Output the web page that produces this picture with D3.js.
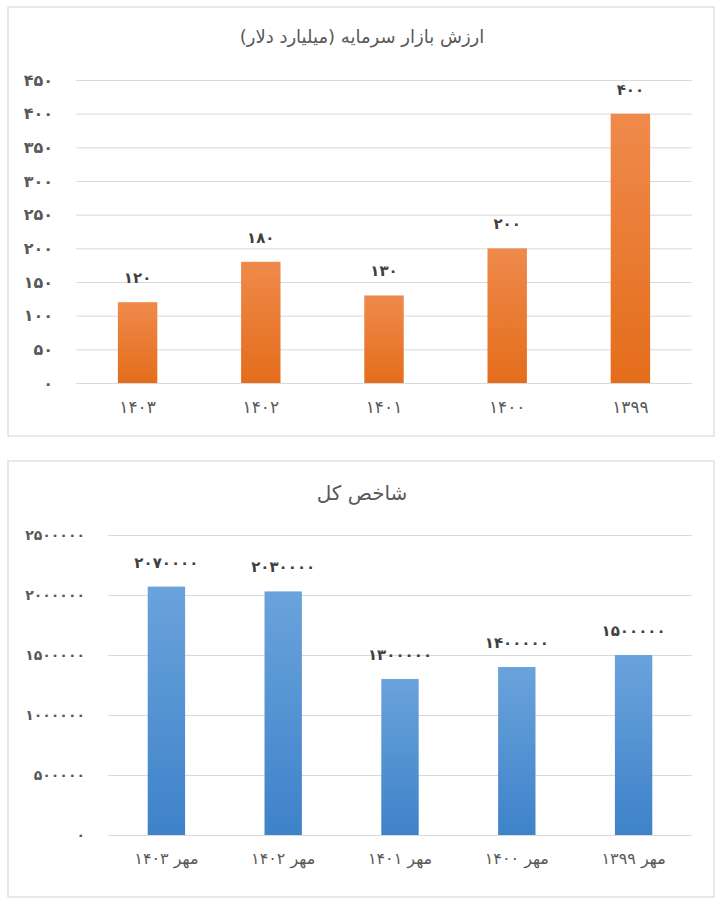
<!DOCTYPE html>
<html><head><meta charset="utf-8">
<script src="https://cdn.jsdelivr.net/npm/d3@7"></script>
<style>
body{margin:0;background:#fff;}
text{font-family:"DejaVu Sans","Noto Sans",sans-serif;}
</style></head>
<body><svg id="c" width="722" height="900"></svg>
<script>
const years1 = ["1403","1402","1401","1400","1399"];
const marketValue = [120,180,130,200,400];
const yTicks1 = [0,50,100,150,200,250,300,350,400,450];
const title1 = "ارزش بازار سرمایه (میلیارد دلار)";

const years2 = ["مهر 1403","مهر 1402","مهر 1401","مهر 1400","مهر 1399"];
const indexValue = [2070000,2030000,1300000,1400000,1500000];
const yTicks2 = [0,500000,1000000,1500000,2000000,2500000];
const title2 = "شاخص کل";

const fa = s => String(s).replace(/[0-9]/g, d => "۰۱۲۳۴۵۶۷۸۹"[+d]);
const svg = d3.select("#c");
const defs = svg.append("defs");
function grad(id, c1, c2){
  const g = defs.append("linearGradient").attr("id",id).attr("x1",0).attr("y1",0).attr("x2",0).attr("y2",1);
  g.append("stop").attr("offset","0%").attr("stop-color",c1);
  g.append("stop").attr("offset","100%").attr("stop-color",c2);
}
grad("gO","#ef8a4c","#e46d1b");
grad("gB","#6aa3dc","#3e82c9");

function chart(o){
  const g = svg.append("g");
  g.append("rect").attr("x",o.px).attr("y",o.py).attr("width",o.pw).attr("height",o.ph)
    .attr("fill","#fff").attr("stroke","#d9d9d9").attr("stroke-width",1.2);
  g.append("text").attr("x",362).attr("y",o.titleY).attr("text-anchor","middle")
    .attr("font-size",o.titleSize).attr("fill","#595959").attr("direction","rtl").text(o.title);
  const x = d3.scaleBand().domain(o.cats).range([o.x0,o.x1]).paddingInner(0.68).paddingOuter(0.34);
  const y = d3.scaleLinear().domain([0,o.max]).range([o.y0,o.y1]);
  const ax = d3.axisLeft(y).tickValues(o.ticks).tickSize(-(o.x1-o.x0)).tickFormat(d=>fa(d)).tickPadding(0);
  const ag = g.append("g").attr("transform",`translate(${o.x0},0)`).call(ax);
  ag.select(".domain").remove();
  ag.selectAll(".tick line").attr("stroke","#d9d9d9").attr("stroke-width",1);
  ag.selectAll(".tick text").attr("x",o.labelX-o.x0).attr("font-size",o.ySize).attr("font-weight","bold")
    .attr("fill","#595959").attr("font-family","DejaVu Sans");
  g.selectAll("rect.bar").data(o.vals).enter().append("rect").attr("class","bar")
    .attr("x",(d,i)=>x(o.cats[i])).attr("width",x.bandwidth())
    .attr("y",d=>y(d)).attr("height",d=>y(0)-y(d)).attr("fill",`url(#${o.grad})`);
  g.selectAll("text.val").data(o.vals).enter().append("text").attr("class","val")
    .attr("x",(d,i)=>x(o.cats[i])+x.bandwidth()/2).attr("y",d=>y(d)-19)
    .attr("text-anchor","middle").attr("font-size",15).attr("font-weight","bold").attr("fill","#404040")
    .text(d=>fa(d));
  const xa = d3.axisBottom(x).tickSize(0).tickFormat(d=>fa(d)).tickPadding(18);
  const xg = g.append("g").attr("transform",`translate(0,${o.y0})`).call(xa);
  xg.select(".domain").remove();
  xg.selectAll(".tick text").attr("font-size",o.xSize).attr("fill","#595959").attr("direction","rtl")
    .attr("font-family","DejaVu Sans");
}
chart({px:8,py:7,pw:706,ph:429,title:title1,titleY:43,titleSize:18,ySize:16,xSize:17,cats:years1,vals:marketValue,ticks:yTicks1,max:450,
  x0:76,x1:692,y0:383,y1:80,labelX:53,grad:"gO"});
chart({px:8,py:461,pw:706,ph:436,title:title2,titleY:500,titleSize:20,ySize:14,xSize:16,cats:years2,vals:indexValue,ticks:yTicks2,max:2500000,
  x0:108,x1:692,y0:835,y1:535,labelX:85,grad:"gB"});
</script></body></html>
